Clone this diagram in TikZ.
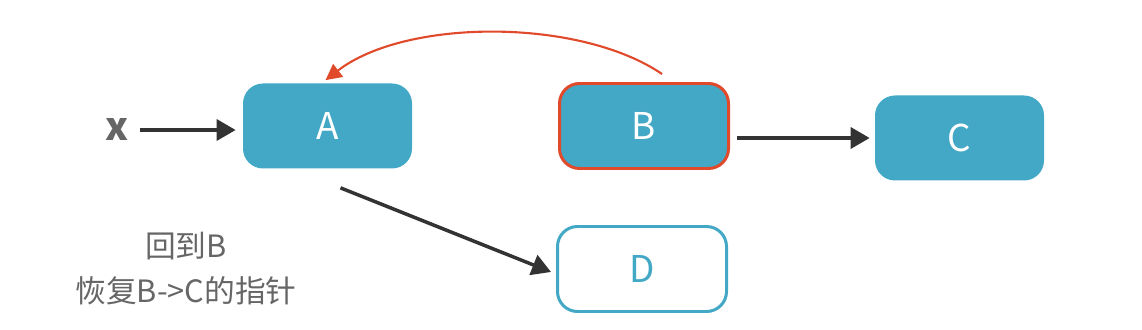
\documentclass[tikz,border=0pt]{standalone}
\usepackage{fontspec}
\setmainfont{Noto Sans CJK SC}
\usepackage{xcolor}
\definecolor{boxteal}{RGB}{66,168,197}
\definecolor{backred}{RGB}{224,74,42}
\definecolor{arrowdark}{RGB}{51,51,51}
\definecolor{notegray}{RGB}{102,102,102}
\usetikzlibrary{positioning,arrows.meta}

\begin{document}
\begin{tikzpicture}[
      listnode/.style={fill=boxteal,rounded corners=4mm,
      minimum width=3.38cm,minimum height=1.70cm,text=white,
      font=\fontsize{21}{24}\selectfont},
      current/.style={listnode,draw=backred,line width=1.7pt},
      freed/.style={listnode,fill=white,draw=boxteal,text=boxteal,line width=1.7pt},
      note/.style={text=notegray,font=\fontsize{17.5}{20}\selectfont},
      link/.style={-{Triangle[length=3.8mm,width=4.2mm]},line width=2pt,draw=arrowdark},
      back/.style={-{Triangle[length=3.2mm,width=3.2mm]},line width=1.2pt,draw=backred}
    ]
    \useasboundingbox (0,0) rectangle (22.84,6.58);
    \node[text=notegray,font=\fontsize{22}{24}\selectfont\bfseries] at (2.34,3.98) (xmark) {x};
    \node[listnode] at (6.55,4.06) (A) {A};
    \node[current] at (12.88,4.06) (B) {B};
    \node[listnode] at (19.19,3.82) (C) {C};
    \node[freed] at (12.84,1.20) (D) {D};
    \draw[link,shorten <=0.1cm,shorten >=0.14cm] (xmark.east) -- (xmark.east -| A.west);
    \draw[link,shorten <=0.14cm,shorten >=0.1cm] (B.east |- C.west) -- (C.west);
    \draw[link] ([xshift=0.26cm,yshift=-0.38cm]A.south) -- ([xshift=-0.1cm,yshift=-0.06cm]D.west);
    \draw[back] ([xshift=0.36cm,yshift=0.16cm]B.north) .. controls (11.6,6.22) and (8.12,6.22) .. ([xshift=-0.04cm,yshift=0.06cm]A.north);
    \node[note] at (3.72,1.66) (note1) {回到B};
    \node[note,below=0.08cm of note1] (note2) {恢复B->C的指针};
  \end{tikzpicture}
\end{document}
